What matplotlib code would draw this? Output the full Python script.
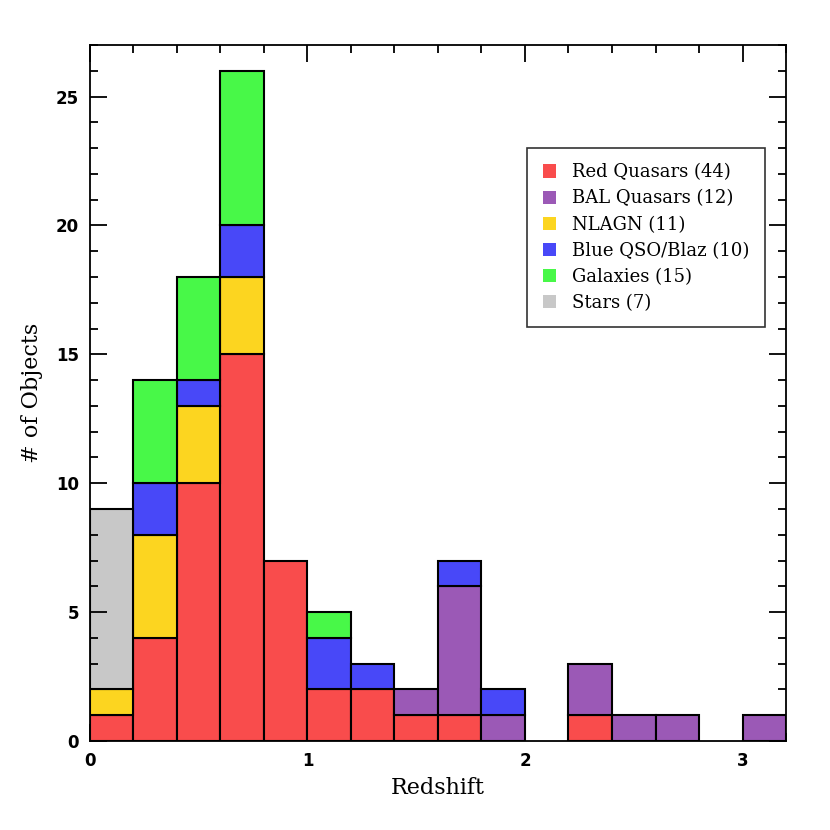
import numpy as np
import matplotlib.pyplot as plt
from matplotlib.ticker import MultipleLocator

# redshift bins (left edges), width 0.2
bin_left = [0.0, 0.2, 0.4, 0.6, 0.8, 1.0, 1.2, 1.4, 1.6, 1.8, 2.0, 2.2, 2.4, 2.6, 2.8, 3.0]

red_quasars = [1, 4, 10, 15, 7, 2, 2, 1, 1, 0, 0, 1, 0, 0, 0, 0]
bal_quasars = [0, 0, 0, 0, 0, 0, 0, 1, 5, 1, 0, 2, 1, 1, 0, 1]
nlagn       = [1, 4, 3, 3, 0, 0, 0, 0, 0, 0, 0, 0, 0, 0, 0, 0]
blue_qso    = [0, 2, 1, 2, 0, 2, 1, 0, 1, 1, 0, 0, 0, 0, 0, 0]
galaxies    = [0, 4, 4, 6, 0, 1, 0, 0, 0, 0, 0, 0, 0, 0, 0, 0]
stars       = [7, 0, 0, 0, 0, 0, 0, 0, 0, 0, 0, 0, 0, 0, 0, 0]

labels = ['Red Quasars (44)', 'BAL Quasars (12)', 'NLAGN (11)',
          'Blue QSO/Blaz (10)', 'Galaxies (15)', 'Stars (7)']
colors = ['#f94c4c', '#9b59b6', '#fcd520', '#4848f8', '#48f848', '#c8c8c8']

fig = plt.figure(figsize=(8.3, 8.3), dpi=100)
ax = fig.add_axes([0.1084, 0.1072, 0.8386, 0.8386])

series = [red_quasars, bal_quasars, nlagn, blue_qso, galaxies, stars]
bottom = np.zeros(len(bin_left))
for vals, lab, col in zip(series, labels, colors):
    vals = np.array(vals)
    mask = vals > 0
    ax.bar(np.array(bin_left)[mask], vals[mask], width=0.2, bottom=bottom[mask],
           align='edge', color=col, edgecolor='black', linewidth=1.5, label=lab)
    bottom += vals

ax.set_xlim(0, 3.2)
ax.set_ylim(0, 27)
ax.xaxis.set_major_locator(MultipleLocator(1))
ax.xaxis.set_minor_locator(MultipleLocator(0.2))
ax.yaxis.set_major_locator(MultipleLocator(5))
ax.yaxis.set_minor_locator(MultipleLocator(1))
ax.tick_params(which='both', direction='in', top=True, right=True, width=1.3,
               labelsize=12, pad=8)
ax.tick_params(which='major', length=12)
ax.tick_params(which='minor', length=6)
for lbl in ax.get_xticklabels() + ax.get_yticklabels():
    lbl.set_fontweight('bold')
for sp in ax.spines.values():
    sp.set_linewidth(1.3)

ax.set_xlabel('Redshift', family='DejaVu Serif', fontsize=16, labelpad=5)
ax.set_ylabel('# of Objects', family='DejaVu Serif', fontsize=16, labelpad=9)

leg = ax.legend(loc='upper right', bbox_to_anchor=(0.97, 0.852), borderaxespad=0,
                prop={'family': 'DejaVu Serif', 'size': 13}, frameon=True,
                fancybox=False, edgecolor='black', handlelength=0.75,
                handleheight=0.75, handletextpad=0.9, borderpad=0.85,
                labelspacing=0.45)
leg.get_frame().set_linewidth(1.2)
for h in leg.legend_handles:
    h.set_edgecolor('none')

plt.savefig('out.png', dpi=100)
